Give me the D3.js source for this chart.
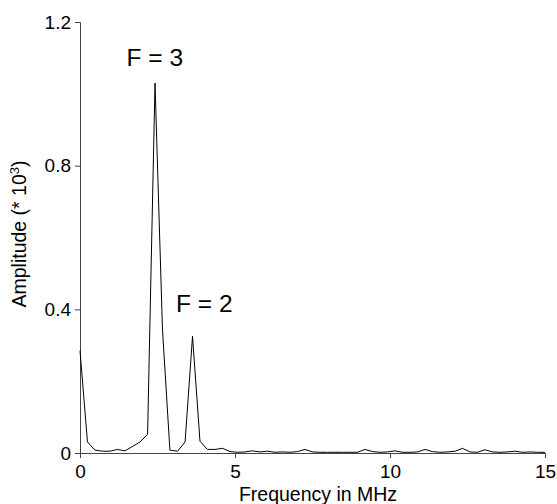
<!DOCTYPE html>
<html>
<head>
<meta charset="utf-8">
<script src="https://cdn.jsdelivr.net/npm/d3@7"></script>
<style>
  body { margin: 0; background: #fff; }
  svg { display: block; font-family: "Liberation Sans", Arial, sans-serif; }
</style>
</head>
<body>
<div id="chart"></div>
<script>
// frequency grid in MHz (63 FFT bins, 0..15)
const frequencies = [
  0, 0.24, 0.48, 0.73, 0.97, 1.21, 1.45, 1.69, 1.94, 2.18,
  2.42, 2.66, 2.9, 3.15, 3.39, 3.63, 3.87, 4.11, 4.35, 4.6,
  4.84, 5.08, 5.32, 5.56, 5.81, 6.05, 6.29, 6.53, 6.77, 7.02,
  7.26, 7.5, 7.74, 7.98, 8.23, 8.47, 8.71, 8.95, 9.19, 9.44,
  9.68, 9.92, 10.16, 10.4, 10.65, 10.89, 11.13, 11.37, 11.61, 11.85,
  12.1, 12.34, 12.58, 12.82, 13.06, 13.31, 13.55, 13.79, 14.03, 14.27,
  14.52, 14.76, 15
];

// amplitude (* 10^3)
const amplitudes = [
  0.285, 0.031, 0.008, 0.005, 0.005, 0.01, 0.006, 0.018, 0.031, 0.052,
  1.03, 0.345, 0.008, 0.005, 0.031, 0.325, 0.033, 0.01, 0.01, 0.013,
  0.004, 0.002, 0.003, 0.006, 0.003, 0.005, 0.002, 0.003, 0.002, 0.004,
  0.01, 0.003, 0.002, 0.002, 0.002, 0.002, 0.002, 0.002, 0.01, 0.004,
  0.002, 0.003, 0.006, 0.002, 0.002, 0.003, 0.01, 0.004, 0.002, 0.003,
  0.005, 0.013, 0.003, 0.002, 0.009, 0.003, 0.002, 0.003, 0.005, 0.002,
  0.003, 0.002, 0.002
];

const xTicks = [0, 5, 10, 15];
const yTicks = [0, 0.4, 0.8, 1.2];

// peak annotations
const peakLabels = [
  { text: "F = 3", f: 1.5, a: 1.078 },
  { text: "F = 2", f: 3.1, a: 0.392 }
];

const width = 557;
const height = 504;
const margin = { top: 22, right: 12, bottom: 51, left: 80 };

const data = frequencies.map((f, i) => ({ f, a: amplitudes[i] }));

const x = d3.scaleLinear()
    .domain([0, 15])
    .range([margin.left, width - margin.right]);

const y = d3.scaleLinear()
    .domain([0, 1.2])
    .range([height - margin.bottom, margin.top]);

const svg = d3.select("#chart").append("svg")
    .attr("width", width)
    .attr("height", height);

// x axis
const xAxis = svg.append("g")
    .attr("transform", `translate(0,${y(0)})`)
    .call(d3.axisBottom(x).tickValues(xTicks).tickFormat(d3.format("d")).tickSize(5).tickPadding(7));

// y axis
const yAxis = svg.append("g")
    .attr("transform", `translate(${x(0)},0)`)
    .call(d3.axisLeft(y).tickValues(yTicks).tickFormat(d => d === 0 ? "0" : d3.format(".1f")(d)).tickSize(5).tickPadding(4));

[xAxis, yAxis].forEach(g => {
    g.select(".domain").attr("stroke", "#444").attr("stroke-width", 1);
    g.selectAll(".tick line").attr("stroke", "#444");
    g.selectAll(".tick text")
        .attr("fill", "#000")
        .style("font-size", "19px")
        .style("font-family", "'Liberation Sans', Arial, sans-serif");
});

// the spectrum line
const line = d3.line()
    .x(d => x(d.f))
    .y(d => y(d.a));

svg.append("path")
    .datum(data)
    .attr("fill", "none")
    .attr("stroke", "#000")
    .attr("stroke-width", 1)
    .attr("d", line);

// peak labels
svg.append("g")
    .selectAll("text")
    .data(peakLabels)
    .join("text")
    .attr("x", d => x(d.f))
    .attr("y", d => y(d.a))
    .style("font-size", "24.5px")
    .attr("fill", "#000")
    .text(d => d.text);

// axis titles
svg.append("text")
    .attr("x", 318)
    .attr("y", 501)
    .attr("text-anchor", "middle")
    .style("font-size", "19.5px")
    .text("Frequency in MHz");

const yTitle = svg.append("text")
    .attr("transform", `translate(26,234) rotate(-90)`)
    .attr("text-anchor", "middle")
    .style("font-size", "19.5px");
yTitle.append("tspan").text("Amplitude (* 10");
yTitle.append("tspan").attr("dy", -7).style("font-size", "13px").text("3");
yTitle.append("tspan").attr("dy", 7).text(")");
</script>
</body>
</html>
